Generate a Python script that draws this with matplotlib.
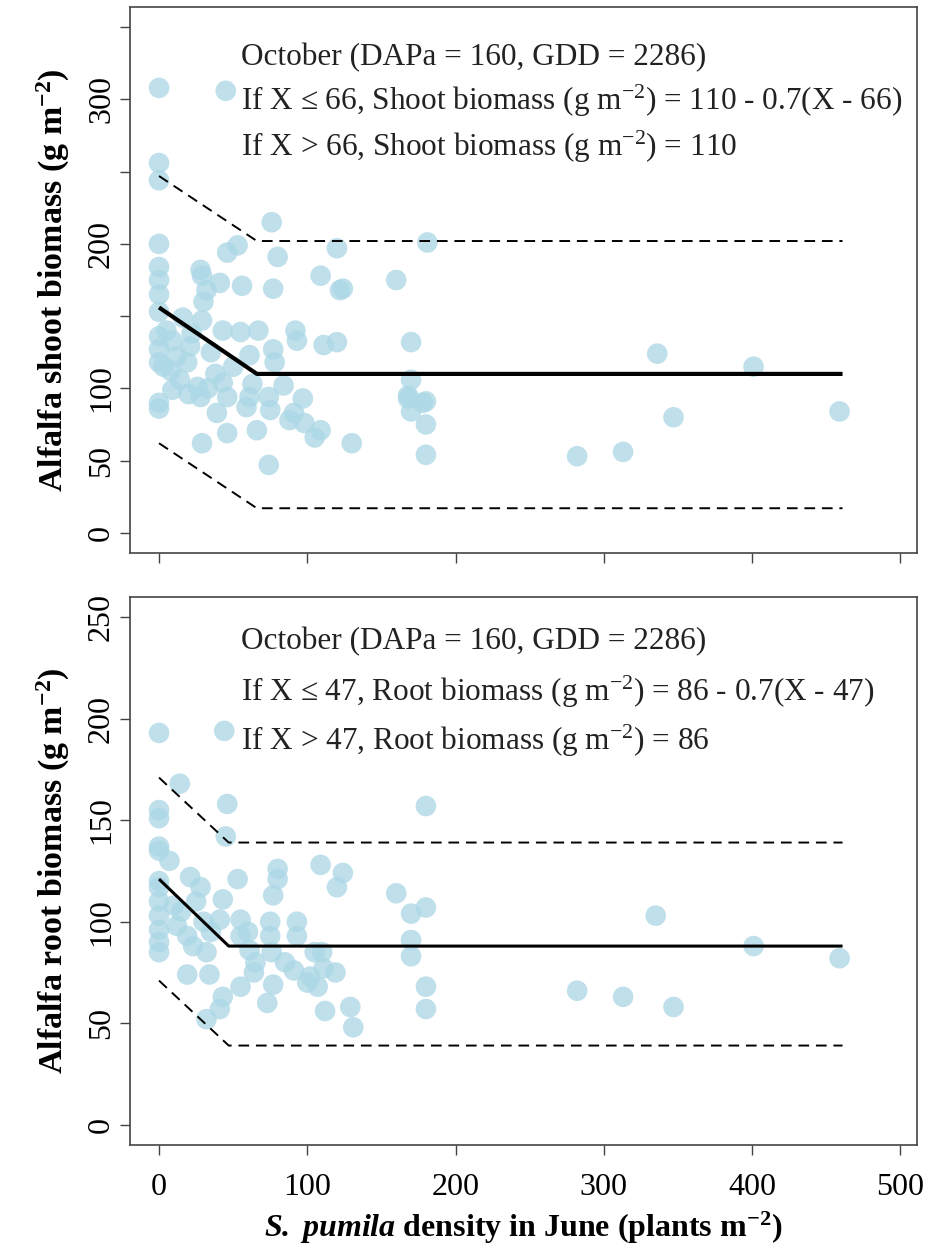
import numpy as np
import matplotlib.pyplot as plt

plt.rcParams['font.family'] = ['Liberation Serif', 'DejaVu Serif']
plt.rcParams['mathtext.fontset'] = 'custom'
plt.rcParams['mathtext.rm'] = 'Liberation Serif'
plt.rcParams['mathtext.it'] = 'Liberation Serif:italic'
plt.rcParams['mathtext.bf'] = 'Liberation Serif:bold'
plt.rcParams['mathtext.bfit'] = 'Liberation Serif:italic:bold'

# Shoot biomass (top panel), October
shoot_x = [0, 45, 0, 0, 76, 0, 46, 53, 80, 28, 0, 109, 120, 181, 160, 124,
           0, 0, 29, 32, 30, 41, 56, 77, 122, 16, 29, 0, 0, 0, 9, 12, 21, 19,
           43, 55, 67, 92, 93, 111, 120, 61, 77, 78, 14, 9, 26, 28, 43, 46, 0,
           61, 59, 74, 75, 97, 91, 109, 105, 39, 46, 66, 29, 74, 130, 180, 180,
           178, 168, 170, 170, 0, 168, 180, 170, 0, 5, 3, 8, 22, 35, 38, 50, 33,
           20, 63, 84, 88, 98,
           336, 401, 459, 347, 282, 313]
shoot_y = [308, 306, 256, 244, 215, 200, 194, 199, 191, 182, 184, 178, 197, 201, 175, 169,
           175, 165, 178, 168, 160, 173, 171, 169, 168, 149, 147, 136, 127, 118, 133, 122, 129, 118,
           140, 139, 140, 140, 133, 130, 132, 123, 127, 118, 106, 99, 101, 94, 104, 94, 90,
           94, 87, 94, 85, 93, 83, 71, 66, 83, 69, 71, 62, 47, 62, 54, 75,
           90, 95, 106, 132, 86, 93, 91, 84, 153, 140, 115, 112, 138, 125, 110, 115, 100,
           96, 103, 102, 78, 76,
           124, 115, 84, 80, 53, 56]

# Root biomass (bottom panel), October
root_x = [0, 44, 14, 46, 180, 0, 0, 0, 0, 7, 45, 109, 124,
          80, 80, 53, 21, 28, 120, 77, 0, 43, 160, 170, 180, 170, 170,
          0, 0, 0, 0, 12, 19, 23, 32, 41, 55, 75, 75, 76, 93, 93, 55, 61,
          19, 34, 64, 91, 102, 111, 107, 55, 77, 43, 73, 41, 32, 112, 119,
          180, 180, 129, 131, 0, 0, 10, 15, 30, 35, 25, 60, 65, 85, 100, 105, 110,
          335, 401, 459, 282, 313, 347]
root_y = [193, 194, 168, 158, 157, 155, 151, 137, 135, 130, 142, 128, 124,
          126, 121, 121, 122, 117, 117, 113, 117, 111, 114, 104, 107, 91, 83,
          103, 96, 90, 85, 98, 93, 88, 85, 101, 101, 100, 93, 85, 100, 93, 93, 86,
          74, 74, 75, 76, 73, 77, 68, 68, 69, 63, 60, 57, 52, 56, 75,
          68, 57, 58, 48, 110, 120, 108, 105, 100, 95, 110, 95, 80, 80, 70, 85, 85,
          103, 88, 82, 66, 63, 58]

# Segmented fits with bands
shoot_fit_x = [0, 66, 461]
shoot_fit = [156, 110, 110]
shoot_upper = [247, 202, 202]
shoot_lower = [62, 17, 17]

root_fit_x = [0, 47, 461]
root_fit = [121, 88, 88]
root_upper = [171, 139, 139]
root_lower = [71, 39, 39]

shoot_text = ['October (DAPa = 160, GDD = 2286)',
              r'If X ≤ 66, Shoot biomass (g m$^{-2}$) = 110 - 0.7(X - 66)',
              r'If X > 66, Shoot biomass (g m$^{-2}$) = 110']
root_text = ['October (DAPa = 160, GDD = 2286)',
             r'If X ≤ 47, Root biomass (g m$^{-2}$) = 86 - 0.7(X - 47)',
             r'If X > 47, Root biomass (g m$^{-2}$) = 86']

fig = plt.figure(figsize=(9.25, 12.54), dpi=100)
ax1 = fig.add_axes([0.1405, 0.559, 0.8505, 0.4354])
ax2 = fig.add_axes([0.1405, 0.0869, 0.8505, 0.4371])

pt_col = '#add8e6'
fs = 22.5
tfs = 23

def panel(ax, x, y, fx, fy, fu, fl, lw, lines, ty, ylim, yticks, ylabels, ylab):
    ax.scatter(x, y, s=220, color=pt_col, alpha=0.78, edgecolors='none', zorder=2)
    ax.plot(fx, fy, color='black', lw=lw, zorder=3, solid_capstyle='butt')
    for b in (fu, fl):
        ax.plot(fx, b, color='black', lw=1.4, dashes=(5.5, 3.5), zorder=3)
    for t, yy in zip(lines, ty):
        ax.text(55, yy, t, fontsize=fs, ha='left', va='center', color='#222222')
    ax.set_xlim(-19.6, 511)
    ax.set_ylim(*ylim)
    ax.set_xticks([0, 100, 200, 300, 400, 500])
    ax.set_yticks(yticks)
    ax.set_yticklabels(ylabels, fontsize=tfs, rotation=90, va='center')
    ax.tick_params(direction='out', length=7, width=1, color='#444444', pad=3)
    for s in ax.spines.values():
        s.set_color('#444444')
        s.set_linewidth(1.2)
    ax.set_ylabel(ylab, fontsize=24.5, fontweight='bold', labelpad=11)

panel(ax1, shoot_x, shoot_y, shoot_fit_x, shoot_fit, shoot_upper, shoot_lower, 3.0,
      shoot_text, [329, 299, 267], (-14, 364), [0, 50, 100, 150, 200, 250, 300, 350],
      ['0', '50', '100', '', '200', '', '300', ''],
      r'Alfalfa shoot biomass (g m$^{\mathbf{-2}}$)')
ax1.set_xticklabels([])

panel(ax2, root_x, root_y, root_fit_x, root_fit, root_upper, root_lower, 2.2,
      root_text, [238, 213, 189], (-10, 260), [0, 50, 100, 150, 200, 250],
      ['0', '50', '100', '150', '200', '250'],
      r'Alfalfa root biomass (g m$^{\mathbf{-2}}$)')
ax2.set_xticklabels(['0', '100', '200', '300', '400', '500'], fontsize=tfs)
ax2.tick_params(axis='x', pad=13)
ax2.set_xlabel(r'$\mathbfit{S.}$ $\mathbfit{pumila}$ density in June (plants m$^{\mathbf{-2}}$)',
               fontsize=23, fontweight='bold', labelpad=6)

fig.savefig('out.png', dpi=100)
